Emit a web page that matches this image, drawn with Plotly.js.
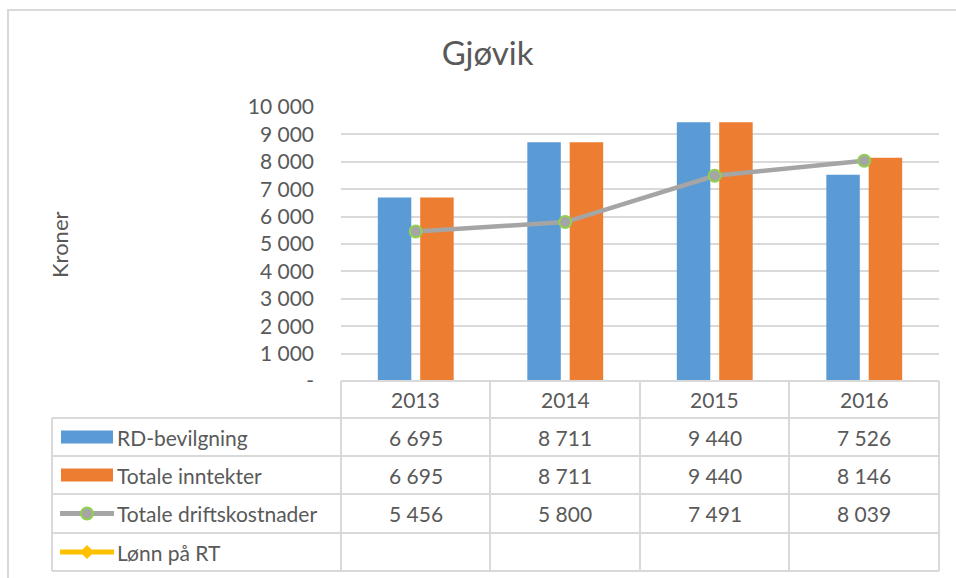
<!DOCTYPE html>
<html>
<head>
<meta charset="utf-8">
<script src="https://cdn.plot.ly/plotly-3.0.1.min.js"></script>
<style>
html,body{margin:0;padding:0;background:#fff;overflow:hidden;}
#frame{position:absolute;left:7px;top:9px;width:960px;height:580px;border-left:2px solid #D9D9D9;border-top:2px solid #D9D9D9;}
#chart{position:absolute;left:0;top:0;width:956px;height:578px;}
</style>
</head>
<body>
<div id="frame"></div>
<div id="chart"></div>
<script>
const years = ['2013', '2014', '2015', '2016'];
const rdBevilgning = [6695, 8711, 9440, 7526];
const totaleInntekter = [6695, 8711, 9440, 8146];
const totaleDriftskostnader = [5456, 5800, 7491, 8039];
const lonnPaRT = [null, null, null, null];
const seriesNames = ['RD-bevilgning', 'Totale inntekter', 'Totale driftskostnader', 'Lønn på RT'];
const tickVals = [0, 1000, 2000, 3000, 4000, 5000, 6000, 7000, 8000, 9000, 10000];
const tickText = ['-', '1 000', '2 000', '3 000', '4 000', '5 000', '6 000', '7 000', '8 000', '9 000', '10 000'];

const W = 956, H = 578;
const M = {l: 341, r: 17, t: 107, b: 197};
const plotH = H - M.t - M.b;
const plotW = W - M.l - M.r;
const py = p => (H - M.b - p) / plotH;   // pixel y -> paper
const px = p => (p - M.l) / plotW;       // pixel x -> paper

const FONT = 'Lato, "Open Sans", sans-serif';
const TXT = '#595959';
const GRID = '#D9D9D9';
const BLUE = '#5B9BD5', ORANGE = '#ED7D31', GRAY = '#A5A5A5', GREEN = '#92D050', YELLOW = '#FFC000';

const fmt = v => (v === null || v === undefined) ? '' : String(v).replace(/\B(?=(\d{3})+(?!\d))/g, ' ');

const traces = [
  {type: 'bar', name: seriesNames[0], x: years, y: rdBevilgning, marker: {color: BLUE}, hoverinfo: 'none'},
  {type: 'bar', name: seriesNames[1], x: years, y: totaleInntekter, marker: {color: ORANGE}, hoverinfo: 'none'},
  {type: 'scatter', mode: 'lines+markers', name: seriesNames[2], x: years, y: totaleDriftskostnader,
   line: {color: GRAY, width: 4.5}, marker: {symbol: 'circle', size: 12, color: GRAY, line: {color: GREEN, width: 2}}, hoverinfo: 'none'},
  {type: 'scatter', mode: 'lines+markers', name: seriesNames[3], x: years, y: lonnPaRT,
   line: {color: YELLOW, width: 4.5}, marker: {symbol: 'diamond', size: 11, color: YELLOW}, hoverinfo: 'none'}
];

// Table rows: header + 4 series rows
const rowLines = [381, 418, 456, 494, 533, 571];
const tableLeft = 52, tableRight = 939, colLines = [341, 490, 640, 789, 939];
const shapes = [];
rowLines.forEach((r, i) => {
  shapes.push({type: 'line', xref: 'paper', yref: 'paper', x0: px(i === 0 ? 341 : tableLeft), x1: px(tableRight), y0: py(r), y1: py(r), line: {color: GRID, width: 2}});
});
colLines.forEach(c => {
  shapes.push({type: 'line', xref: 'paper', yref: 'paper', x0: px(c), x1: px(c), y0: py(381), y1: py(571), line: {color: GRID, width: 2}});
});
shapes.push({type: 'line', xref: 'paper', yref: 'paper', x0: px(tableLeft), x1: px(tableLeft), y0: py(418), y1: py(571), line: {color: GRID, width: 2}});

const annotations = [];
const rowCenter = i => (rowLines[i] + rowLines[i + 1]) / 2;
const cellFont = {family: FONT, size: 21, color: TXT};
years.forEach((y, k) => annotations.push({x: k, xref: 'x', xanchor: 'center', y: py(rowCenter(0)), yref: 'paper', yanchor: 'middle', text: y, showarrow: false, font: cellFont}));
const seriesData = [rdBevilgning, totaleInntekter, totaleDriftskostnader, lonnPaRT];
seriesData.forEach((arr, si) => {
  arr.forEach((v, k) => {
    if (v !== null) annotations.push({x: k, xref: 'x', xanchor: 'center', y: py(rowCenter(si + 1)), yref: 'paper', yanchor: 'middle', text: fmt(v), showarrow: false, font: cellFont});
  });
  annotations.push({x: px(115), xref: 'paper', xanchor: 'left', y: py(rowCenter(si + 1)), yref: 'paper', yanchor: 'middle', text: seriesNames[si], showarrow: false, font: cellFont});
});
const c1 = rowCenter(1), c2 = rowCenter(2), c3 = rowCenter(3), c4 = rowCenter(4);
shapes.push({type: 'rect', xref: 'paper', yref: 'paper', x0: px(61), x1: px(113), y0: py(c1 - 6.5), y1: py(c1 + 6.5), fillcolor: BLUE, line: {width: 0}});
shapes.push({type: 'rect', xref: 'paper', yref: 'paper', x0: px(61), x1: px(113), y0: py(c2 - 6.5), y1: py(c2 + 6.5), fillcolor: ORANGE, line: {width: 0}});
shapes.push({type: 'line', xref: 'paper', yref: 'paper', x0: px(60), x1: px(114), y0: py(c3), y1: py(c3), line: {color: GRAY, width: 5}});
shapes.push({type: 'circle', xref: 'paper', yref: 'paper', x0: px(81), x1: px(93), y0: py(c3 - 6), y1: py(c3 + 6), fillcolor: GRAY, line: {color: GREEN, width: 2}});
shapes.push({type: 'line', xref: 'paper', yref: 'paper', x0: px(60), x1: px(114), y0: py(c4), y1: py(c4), line: {color: YELLOW, width: 5}});
shapes.push({type: 'path', xref: 'paper', yref: 'paper',
  path: `M ${px(87)} ${py(c4 - 7)} L ${px(94)} ${py(c4)} L ${px(87)} ${py(c4 + 7)} L ${px(80)} ${py(c4)} Z`,
  fillcolor: YELLOW, line: {width: 0}});

annotations.push({x: px(60), xref: 'paper', xanchor: 'center', y: py(245), yref: 'paper', yanchor: 'middle', text: 'Kroner', textangle: -90, showarrow: false, font: {family: FONT, size: 22, color: TXT}});

const layout = {
  width: W, height: H,
  margin: M,
  paper_bgcolor: 'rgba(0,0,0,0)', plot_bgcolor: 'rgba(0,0,0,0)',
  showlegend: false,
  barmode: 'group', bargap: 0.433, bargroupgap: 0.21,
  title: {text: 'Gjøvik', x: 0.51, xanchor: 'center', y: 1 - 53 / H, yanchor: 'middle', yref: 'container', font: {family: FONT, size: 33, color: TXT}},
  xaxis: {type: 'category', range: [-0.5, 3.5], autorange: false, showticklabels: false, showgrid: false, zeroline: false, showline: false, ticks: ''},
  yaxis: {range: [0, 10000], autorange: false, tickvals: tickVals, ticktext: tickText, showgrid: true, gridcolor: GRID, gridwidth: 2,
          zeroline: false, showline: false, ticks: '', ticklabelstandoff: 26,
          tickfont: {family: FONT, size: 21, color: TXT}},
  shapes: shapes,
  annotations: annotations
};

Plotly.newPlot('chart', traces, layout, {staticPlot: true, displayModeBar: false});
</script>
</body>
</html>
